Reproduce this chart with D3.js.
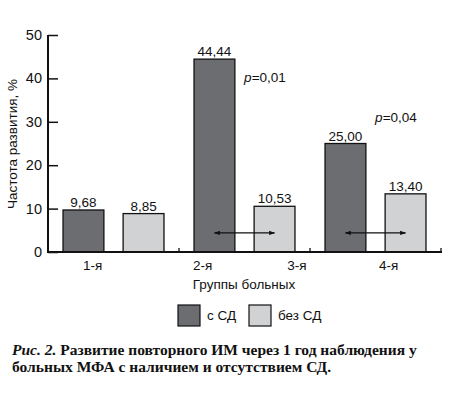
<!DOCTYPE html>
<html><head><meta charset="utf-8">
<script src="https://cdn.jsdelivr.net/npm/d3@7"></script>
<style>body{margin:0;background:#fff}svg{display:block}</style>
</head><body><svg id="c" width="462" height="396"></svg>
<script>
const groups = ["g1","g2","g3"];
const withDM = [9.68, 44.44, 25.00];
const withoutDM = [8.85, 10.53, 13.40];
const valueLabels1 = ["9,68","44,44","25,00"];
const valueLabels2 = ["8,85","10,53","13,40"];
const xLabels = ["1-я","2-я","3-я","4-я"];
const xLabelPos = [0.34, 1.18, 1.90, 2.60]; // in group units
const yTicks = [0,10,20,30,40,50];
const pLabels = [{g:1, v:40.3, t:"0,01"},{g:2, v:31, t:"0,04"}];
const arrowGroups = [1,2];
const arrowValue = 4.4;
const seriesNames = ["с СД","без СД"];
const colors = ["#6c6d71","#d1d2d4"];

const svg = d3.select("#c");
const x0 = 48, x1 = 441, y0 = 252, y1 = 35;
const y = d3.scaleLinear().domain([0,50]).range([y0,y1]);
const xb = d3.scaleBand().domain(groups).range([x0,x1]).paddingInner(0).paddingOuter(0);
const xs = d3.scaleBand().domain([0,1]).range([0, xb.bandwidth()]).paddingInner(0.32).paddingOuter(0.25);
const xl = d3.scaleLinear().domain([0,3]).range([x0,x1]);
const font = "Liberation Sans, Arial, sans-serif";

// bars
const series = [withDM, withoutDM];
const lbls = [valueLabels1, valueLabels2];
series.forEach((s,si)=>{
  svg.selectAll(null).data(s).enter().append("rect")
    .attr("x",(d,i)=>xb(groups[i])+xs(si))
    .attr("y",d=>y(d))
    .attr("width",xs.bandwidth())
    .attr("height",d=>y0-y(d))
    .attr("fill",colors[si]).attr("stroke","#111").attr("stroke-width",1.3);
  svg.selectAll(null).data(s).enter().append("text")
    .attr("x",(d,i)=>xb(groups[i])+xs(si)+xs.bandwidth()/2)
    .attr("y",d=>y(d)-3)
    .attr("text-anchor","middle").attr("font-family",font).attr("font-size",13.5)
    .attr("fill","#111").text((d,i)=>lbls[si][i]);
});

// axes
const yAxis = d3.axisRight(y).tickValues(yTicks).tickSize(10).tickFormat("");
const gy = svg.append("g").attr("transform",`translate(${x0},0)`).call(yAxis);
gy.select(".domain").remove();
gy.selectAll("line").attr("stroke","#111").attr("stroke-width",1.5);
svg.append("line").attr("x1",x0).attr("x2",x0).attr("y1",y1).attr("y2",y0+1).attr("stroke","#111").attr("stroke-width",2);
svg.selectAll(null).data(yTicks).enter().append("text")
  .attr("x",x0-6).attr("y",d=>y(d)+5).attr("text-anchor","end")
  .attr("font-family",font).attr("font-size",14.5).attr("fill","#111").text(d=>d);
svg.append("line").attr("x1",x0-1).attr("x2",x1+1).attr("y1",y0).attr("y2",y0).attr("stroke","#111").attr("stroke-width",2);
svg.selectAll(null).data(groups).enter().append("line")
  .attr("x1",d=>xb(d)+xb.bandwidth()).attr("x2",d=>xb(d)+xb.bandwidth())
  .attr("y1",y0).attr("y2",y0-4).attr("stroke","#111").attr("stroke-width",1.3);

// x labels
svg.selectAll(null).data(xLabels).enter().append("text")
  .attr("x",(d,i)=>xl(xLabelPos[i])).attr("y",270).attr("text-anchor","middle")
  .attr("font-family",font).attr("font-size",13.5).attr("fill","#111").text(d=>d);
svg.append("text").attr("x",244).attr("y",289).attr("text-anchor","middle")
  .attr("font-family",font).attr("font-size",13.5).attr("fill","#111").text("Группы больных");
svg.append("text").attr("transform",`translate(17,144) rotate(-90)`).attr("text-anchor","middle")
  .attr("font-family",font).attr("font-size",13.5).attr("fill","#111").text("Частота развития, %");

// arrows
const defs = svg.append("defs");
defs.append("marker").attr("id","ah").attr("viewBox","0 0 10 10").attr("refX",9).attr("refY",5)
  .attr("markerWidth",8).attr("markerHeight",6).attr("markerUnits","userSpaceOnUse").attr("orient","auto-start-reverse")
  .append("path").attr("d","M0,1.5 L10,5 L0,8.5 Z").attr("fill","#111");
svg.selectAll(null).data(arrowGroups).enter().append("line")
  .attr("x1",g=>xb(groups[g])+xs(0)+xs.bandwidth()/2)
  .attr("x2",g=>xb(groups[g])+xs(1)+xs.bandwidth()/2)
  .attr("y1",y(arrowValue)).attr("y2",y(arrowValue))
  .attr("stroke","#111").attr("stroke-width",1.2)
  .attr("marker-start","url(#ah)").attr("marker-end","url(#ah)");

// p labels
const pt = svg.selectAll(null).data(pLabels).enter().append("text")
  .attr("x",d=>xb(groups[d.g])+xs(1)-10).attr("y",d=>y(d.v)+5)
  .attr("font-family",font).attr("font-size",13.5).attr("fill","#111");
pt.append("tspan").attr("font-style","italic").text("p");
pt.append("tspan").text(d=>"="+d.t);

// legend
const lg = svg.append("g");
const legX = [178, 249];
seriesNames.forEach((n,i)=>{
  lg.append("rect").attr("x",legX[i]).attr("y",305).attr("width",22).attr("height",21)
    .attr("fill",colors[i]).attr("stroke","#111").attr("stroke-width",1.2);
  lg.append("text").attr("x",legX[i]+29).attr("y",320).attr("font-family",font)
    .attr("font-size",13.5).attr("fill","#111").text(n);
});

// caption
const serif = "Liberation Serif, Times New Roman, serif";
const c1 = svg.append("text").attr("x",12).attr("y",355).attr("font-family",serif)
  .attr("font-size",15.5).attr("font-weight","bold").attr("fill","#111");
c1.append("tspan").attr("font-style","italic").text("Рис. 2.");
c1.append("tspan").text(" Развитие повторного ИМ через 1 год наблюдения у");
svg.append("text").attr("x",12).attr("y",372).attr("font-family",serif)
  .attr("font-size",15.5).attr("font-weight","bold").attr("fill","#111")
  .text("больных МФА с наличием и отсутствием СД.");
</script></body></html>
